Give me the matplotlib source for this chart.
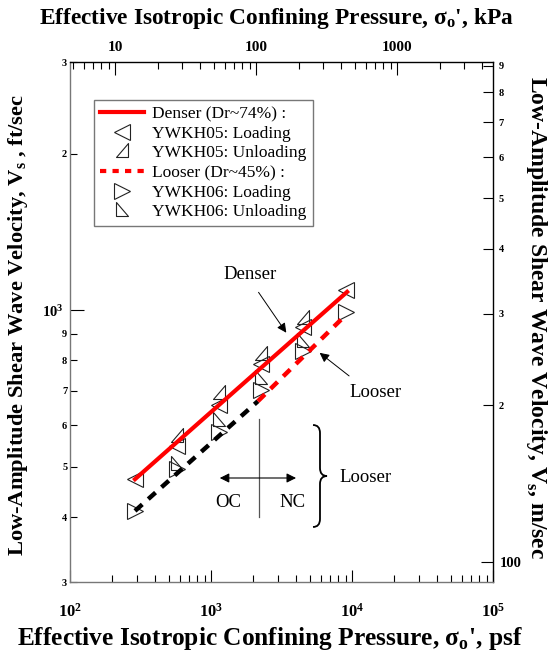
import numpy as np
import matplotlib
matplotlib.use('Agg')
import matplotlib.pyplot as plt
from matplotlib.lines import Line2D
from matplotlib.path import Path
from matplotlib.patches import PathPatch
from matplotlib.ticker import FixedLocator, FixedFormatter, NullFormatter

plt.rcParams['font.family'] = ['Liberation Serif', 'DejaVu Serif']
plt.rcParams['mathtext.fontset'] = 'custom'
plt.rcParams['mathtext.rm'] = 'Liberation Serif'
plt.rcParams['mathtext.bf'] = 'Liberation Serif:bold'

# ---- data (psf, ft/sec) ----
dense_load_p = [290, 577, 1140, 2270, 4500, 9100]
dense_load_v = [473, 548, 656, 787, 927, 1094]
dense_unload_p = [4500, 2270, 1140, 577]
dense_unload_v = [966, 823, 692, 573]

loose_load_p = [290, 577, 1140, 2270, 4500, 9100]
loose_load_v = [411, 494, 582, 702, 834, 991]
loose_unload_p = [4500, 2270, 1140, 577]
loose_unload_v = [872, 740, 614, 505]

dense_fit_p = [289, 9230]
dense_fit_v = [473, 1084]
loose_oc_p = [289, 2150]
loose_oc_v = [411, 668]
loose_nc_p = [2150, 8910]
loose_nc_v = [668, 975]

PSF_PER_KPA = 20.885
M_PER_FT = 0.3048

xticks_major = [1e2, 1e3, 1e4, 1e5]
xticklabels = [r'$\mathbf{10^{2}}$', r'$\mathbf{10^{3}}$', r'$\mathbf{10^{4}}$', r'$\mathbf{10^{5}}$']
yticks_major = [1000]
yticklabels_major = [r'$\mathbf{10^{3}}$']
yticks_minor = [300, 400, 500, 600, 700, 800, 900, 2000, 3000]
yticklabels_minor = ['3', '4', '5', '6', '7', '8', '9', '2', '3']
top_major = [10, 100, 1000]
top_labels = ['10', '100', '1000']
right_major = [100]
right_labels = ['100']
right_minor = [200, 300, 400, 500, 600, 700, 800, 900]
right_minor_labels = ['2', '3', '4', '5', '6', '7', '8', '9']

# markers
unload05 = Path([(-1, -1), (1, -1), (1, 1.3), (-1, -1)], closed=True)
unload06 = Path([(-1, 1.3), (-1, -1), (1, -1), (-1, 1.3)], closed=True)

fig = plt.figure(figsize=(5.53, 6.51), dpi=100)
ax = fig.add_axes([70/553, 1 - 582/651, 423/553, 520/651])
ax.set_xscale('log')
ax.set_yscale('log')
ax.set_xlim(1e2, 1e5)
ax.set_ylim(300, 3000)

mk = dict(linestyle='none', markerfacecolor='none', markeredgecolor='#222222',
          markeredgewidth=0.8, markersize=11.5, zorder=2)
ax.plot(dense_load_p, dense_load_v, marker='<', **mk)
ax.plot(dense_unload_p, dense_unload_v, marker=unload05, **mk)
ax.plot(loose_load_p, loose_load_v, marker='>', **mk)
ax.plot(loose_unload_p, loose_unload_v, marker=unload06, **mk)

ax.plot(dense_fit_p, dense_fit_v, color='#ff0000', lw=3, zorder=3)
ax.plot(loose_oc_p, loose_oc_v, color='black', lw=3.2, dashes=(2.2, 1.8), zorder=3)
ax.plot(loose_nc_p, loose_nc_v, color='#ff0000', lw=3.2, dashes=(2.2, 1.8), zorder=3)

# spines / ticks
for s in ['left', 'bottom']:
    ax.spines[s].set_color('#777777')
for s in ['top', 'right']:
    ax.spines[s].set_color('black')
for s in ax.spines.values():
    s.set_linewidth(1.0)

ax.xaxis.set_major_locator(FixedLocator(xticks_major))
ax.xaxis.set_major_formatter(FixedFormatter(xticklabels))
ax.xaxis.set_minor_formatter(NullFormatter())
ax.yaxis.set_major_locator(FixedLocator(yticks_major))
ax.yaxis.set_major_formatter(FixedFormatter(yticklabels_major))
ax.yaxis.set_minor_locator(FixedLocator(yticks_minor))
ax.yaxis.set_minor_formatter(FixedFormatter(yticklabels_minor))
ax.tick_params(axis='x', which='major', direction='in', length=9, width=0.8,
               labelsize=12, pad=15)
ax.tick_params(axis='x', which='minor', direction='in', length=5, width=0.8)
ax.tick_params(axis='y', which='major', direction='in', length=10, width=0.8,
               labelsize=10.5, pad=5)
ax.tick_params(axis='y', which='minor', direction='in', length=5, width=0.8,
               labelsize=7.5, pad=2)
for lab in ax.get_yticklabels(minor=True):
    lab.set_fontweight('bold')

top = ax.secondary_xaxis('top', functions=(lambda p: p / PSF_PER_KPA,
                                           lambda k: k * PSF_PER_KPA))
top.xaxis.set_major_locator(FixedLocator(top_major))
top.xaxis.set_major_formatter(FixedFormatter(top_labels))
top.xaxis.set_minor_formatter(NullFormatter())
top.tick_params(which='major', direction='in', length=9, width=0.8, labelsize=11, pad=6)
top.tick_params(which='minor', direction='in', length=5, width=0.8)
for lab in top.get_xticklabels():
    lab.set_fontweight('bold')
top.spines['top'].set_visible(False)

right = ax.secondary_yaxis('right', functions=(lambda v: v * M_PER_FT,
                                               lambda m: m / M_PER_FT))
right.yaxis.set_major_locator(FixedLocator(right_major))
right.yaxis.set_major_formatter(FixedFormatter(right_labels))
right.yaxis.set_minor_locator(FixedLocator(right_minor))
right.yaxis.set_minor_formatter(FixedFormatter(right_minor_labels))
right.tick_params(which='major', direction='in', length=9, width=0.8, labelsize=10.5, pad=5)
right.tick_params(which='minor', direction='in', length=7, width=0.8, labelsize=7.5, pad=4)
for lab in right.get_yticklabels() + right.get_yticklabels(minor=True):
    lab.set_fontweight('bold')
right.spines['right'].set_visible(False)

ax.set_xlabel("Effective Isotropic Confining Pressure, σ$_{\\mathbf{o}}$', psf",
              fontsize=18.3, fontweight='bold', va='center')
ax.xaxis.set_label_coords(0.473, -0.1077)
top.set_xlabel("Effective Isotropic Confining Pressure, σ$_{\\mathbf{o}}$', kPa",
               fontsize=16.8, fontweight='bold', va='center')
top.xaxis.set_label_coords(0.487, 1.0846, transform=ax.transAxes)
ax.set_ylabel("Low-Amplitude Shear Wave Velocity, V$_{\\mathbf{s}}$ , ft/sec",
              fontsize=16.2, fontweight='bold', va='center')
ax.yaxis.set_label_coords(-0.123, 0.494)
right.set_ylabel("Low-Amplitude Shear Wave Velocity, V$_{\\mathbf{s}}$, m/sec",
                 fontsize=17, fontweight='bold', rotation=-90, va='center')
right.yaxis.set_label_coords(1.104, 0.508, transform=ax.transAxes)

# legend
handles = [
    Line2D([], [], color='#ff0000', lw=3),
    Line2D([], [], marker='<', **mk),
    Line2D([], [], marker=unload05, **mk),
    Line2D([], [], color='#ff0000', lw=3, dashes=(1.5, 1.5)),
    Line2D([], [], marker='>', **mk),
    Line2D([], [], marker=unload06, **mk),
]
labels = ['Denser (Dr~74%) :', 'YWKH05: Loading', 'YWKH05: Unloading',
          'Looser (Dr~45%) :', 'YWKH06: Loading', 'YWKH06: Unloading']
leg = ax.legend(handles, labels, loc='upper left', bbox_to_anchor=(0.057, 0.927),
                fontsize=12.5, frameon=True, fancybox=False, edgecolor='#555555',
                handlelength=2.5, handletextpad=0.5, labelspacing=0.2,
                borderpad=0.35, borderaxespad=0)
leg.get_frame().set_linewidth(1.0)

# annotations
arr = dict(arrowstyle='-|>', color='black', lw=0.7, mutation_scale=14)
ax.annotate('', xy=(0.515, 0.475), xytext=(0.442, 0.5615), xycoords='axes fraction',
            arrowprops=arr)
ax.text(0.4255, 0.592, 'Denser', transform=ax.transAxes, fontsize=13.5, ha='center', va='center')
ax.annotate('', xy=(0.585, 0.444), xytext=(0.665, 0.393), xycoords='axes fraction',
            arrowprops=arr)
ax.text(0.66, 0.365, 'Looser', transform=ax.transAxes, fontsize=13.5, ha='left', va='center')

ax.plot([0.447, 0.447], [0.3135, 0.125], transform=ax.transAxes, color='#555555', lw=0.9)
ax.annotate('', xy=(0.3475, 0.2), xytext=(0.541, 0.2), xycoords='axes fraction',
            arrowprops=dict(arrowstyle='<|-|>', color='black', lw=0.8, mutation_scale=14))
ax.text(0.3735, 0.152, 'OC', transform=ax.transAxes, fontsize=13.5, ha='center', va='center')
ax.text(0.527, 0.152, 'NC', transform=ax.transAxes, fontsize=13.5, ha='center', va='center')

# curly brace
bx = [0.5745, 0.591, 0.591, 0.591, 0.591, 0.6076, 0.591, 0.591, 0.591, 0.591, 0.5745]
by = [0.3019, 0.3019, 0.2865, 0.2192, 0.2038, 0.2038, 0.2038, 0.1885, 0.1212, 0.1058, 0.1058]
codes = [Path.MOVETO, Path.CURVE3, Path.CURVE3, Path.LINETO, Path.CURVE3, Path.CURVE3,
         Path.CURVE3, Path.CURVE3, Path.LINETO, Path.CURVE3, Path.CURVE3]
brace = Path(np.column_stack((bx, by)), codes)
ax.add_patch(PathPatch(brace, transform=ax.transAxes, facecolor='none', edgecolor='black', lw=1.3))
ax.text(0.638, 0.2, 'Looser', transform=ax.transAxes, fontsize=13.5, ha='left', va='center')

fig.savefig('out.png', dpi=100)
